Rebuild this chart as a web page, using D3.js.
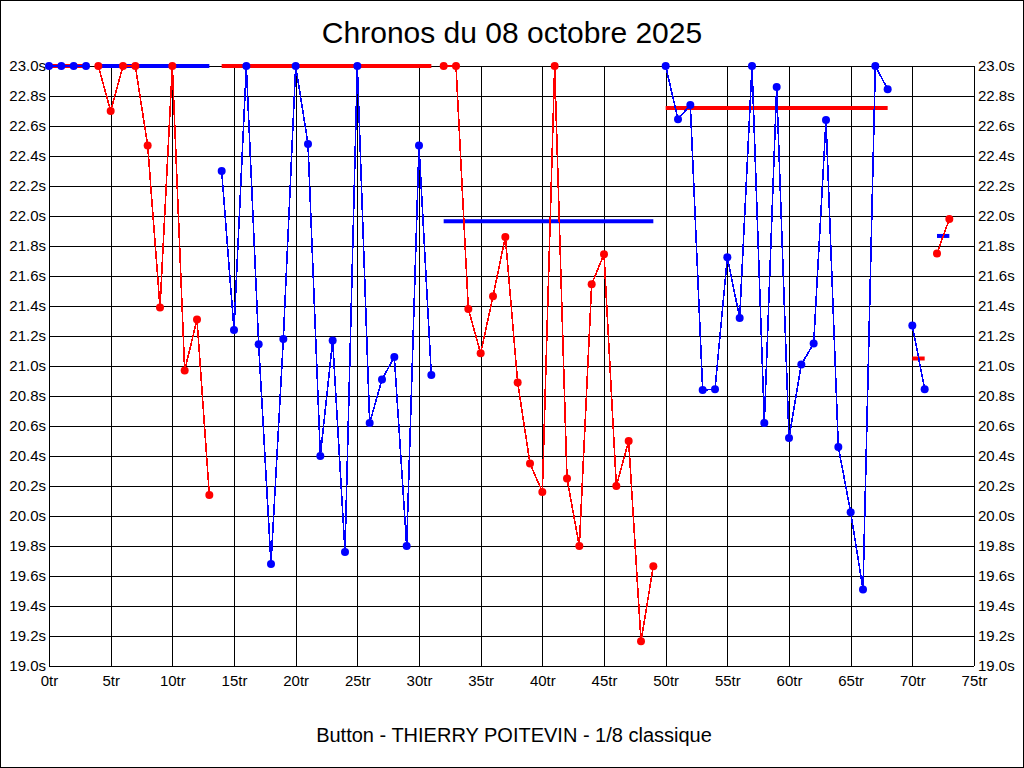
<!DOCTYPE html>
<html>
<head>
<meta charset="utf-8">
<script src="https://cdn.jsdelivr.net/npm/d3@7"></script>
<style>
  body { margin: 0; background: #fff; }
  svg { display: block; font-family: "Liberation Sans", Arial, sans-serif; }
</style>
</head>
<body>
<div id="chart"></div>
<script>
// Lap times (seconds), one array per stint; times above 23.0s are shown at 23.0s
const stintStart = [0, 4, 14, 32, 50, 70, 72];
const stintDriver = ["B", "A", "B", "A", "B", "B", "A"];
const stintTimes = [
  [23.0, 23.0, 23.0, 23.0],
  [23.0, 22.70, 23.0, 23.0, 22.47, 21.39, 23.0, 20.97, 21.31, 20.14],
  [22.30, 21.24, 23.0, 21.145, 19.68, 21.18, 23.0, 22.48, 20.40, 21.17, 19.76, 23.0, 20.62, 20.91, 21.06, 19.80, 22.47, 20.94],
  [23.0, 23.0, 21.38, 21.085, 21.465, 21.86, 20.89, 20.35, 20.16, 23.0, 20.25, 19.80, 21.545, 21.745, 20.20, 20.50, 19.165, 19.665],
  [23.0, 22.645, 22.74, 20.84, 20.845, 21.725, 21.32, 23.0, 20.62, 22.86, 20.52, 21.01, 21.15, 22.64, 20.46, 20.025, 19.51, 23.0, 22.845],
  [21.27, 20.845],
  [21.75, 21.98]
];
const stintMean = [23.0, 23.0, 23.0, 21.965, 22.72, 21.05, 21.867];

const xTicks = [0, 5, 10, 15, 20, 25, 30, 35, 40, 45, 50, 55, 60, 65, 70, 75];
const yTicks = [19.0, 19.2, 19.4, 19.6, 19.8, 20.0, 20.2, 20.4, 20.6, 20.8, 21.0, 21.2, 21.4, 21.6, 21.8, 22.0, 22.2, 22.4, 22.6, 22.8, 23.0];

const title = "Chronos du 08 octobre 2025";
const subtitle = "Button - THIERRY POITEVIN - 1/8 classique";

const width = 1024;
const height = 768;
const margin = {left: 49, right: 50, top: 66, bottom: 102};
const driverColor = {A: "#ff0000", B: "#0000ff"};
const meanColor = {A: "#0000ff", B: "#ff0000"};

const svg = d3.select("#chart").append("svg")
  .attr("width", width)
  .attr("height", height);

svg.append("rect")
  .attr("x", 0.5).attr("y", 0.5)
  .attr("width", width - 1).attr("height", height - 1)
  .attr("fill", "#fff").attr("stroke", "#000");

const x = d3.scaleLinear().domain([0, 75]).range([margin.left, width - margin.right]);
const y = d3.scaleLinear().domain([19, 23]).range([height - margin.bottom, margin.top]);
const plotW = x.range()[1] - x.range()[0];
const plotH = y.range()[0] - y.range()[1];

// grid + left labels
const yAxis = svg.append("g")
  .attr("transform", `translate(${margin.left},0)`)
  .call(d3.axisLeft(y).tickValues(yTicks).tickSize(-plotW).tickPadding(3)
    .tickFormat(d => d.toFixed(1) + "s"));

// right labels
const yAxisR = svg.append("g")
  .attr("transform", `translate(${x.range()[1]},0)`)
  .call(d3.axisRight(y).tickValues(yTicks).tickSize(0).tickPadding(4)
    .tickFormat(d => d.toFixed(1) + "s"));

const xAxis = svg.append("g")
  .attr("transform", `translate(0,${y.range()[0]})`)
  .call(d3.axisBottom(x).tickValues(xTicks).tickSize(-plotH).tickPadding(9)
    .tickFormat(d => d + "tr"));

[yAxis, yAxisR, xAxis].forEach(g => {
  g.select(".domain").remove();
  g.selectAll("line").attr("stroke", "#000").attr("shape-rendering", "crispEdges");
  g.selectAll("text").attr("fill", "#000").style("font-size", "15px")
    .style("font-family", '"Liberation Sans", Arial, sans-serif');
});

// stints
const stints = stintTimes.map((times, i) => ({
  driver: stintDriver[i],
  mean: stintMean[i],
  first: stintStart[i],
  last: stintStart[i] + times.length - 1,
  points: times.map((t, j) => ({lap: stintStart[i] + j, t: t}))
}));

// mean lines
svg.append("g").selectAll("line")
  .data(stints)
  .join("line")
  .attr("x1", d => x(d.first))
  .attr("x2", d => x(d.last))
  .attr("y1", d => y(d.mean))
  .attr("y2", d => y(d.mean))
  .attr("stroke", d => meanColor[d.driver])
  .attr("stroke-width", 4);

const line = d3.line().x(d => x(d.lap)).y(d => y(d.t));

svg.append("g").selectAll("path")
  .data(stints)
  .join("path")
  .attr("d", d => line(d.points))
  .attr("fill", "none")
  .attr("stroke", d => driverColor[d.driver])
  .attr("stroke-width", 1.6)
  .attr("shape-rendering", "crispEdges");

stints.forEach(s => {
  svg.append("g").selectAll("circle")
    .data(s.points)
    .join("circle")
    .attr("cx", d => x(d.lap))
    .attr("cy", d => y(d.t))
    .attr("r", 4)
    .attr("fill", driverColor[s.driver]);
});

svg.append("text")
  .attr("x", 512).attr("y", 43)
  .attr("text-anchor", "middle")
  .style("font-size", "30px")
  .text(title);

svg.append("text")
  .attr("x", 514).attr("y", 742)
  .attr("text-anchor", "middle")
  .style("font-size", "20px")
  .text(subtitle);
</script>
</body>
</html>
